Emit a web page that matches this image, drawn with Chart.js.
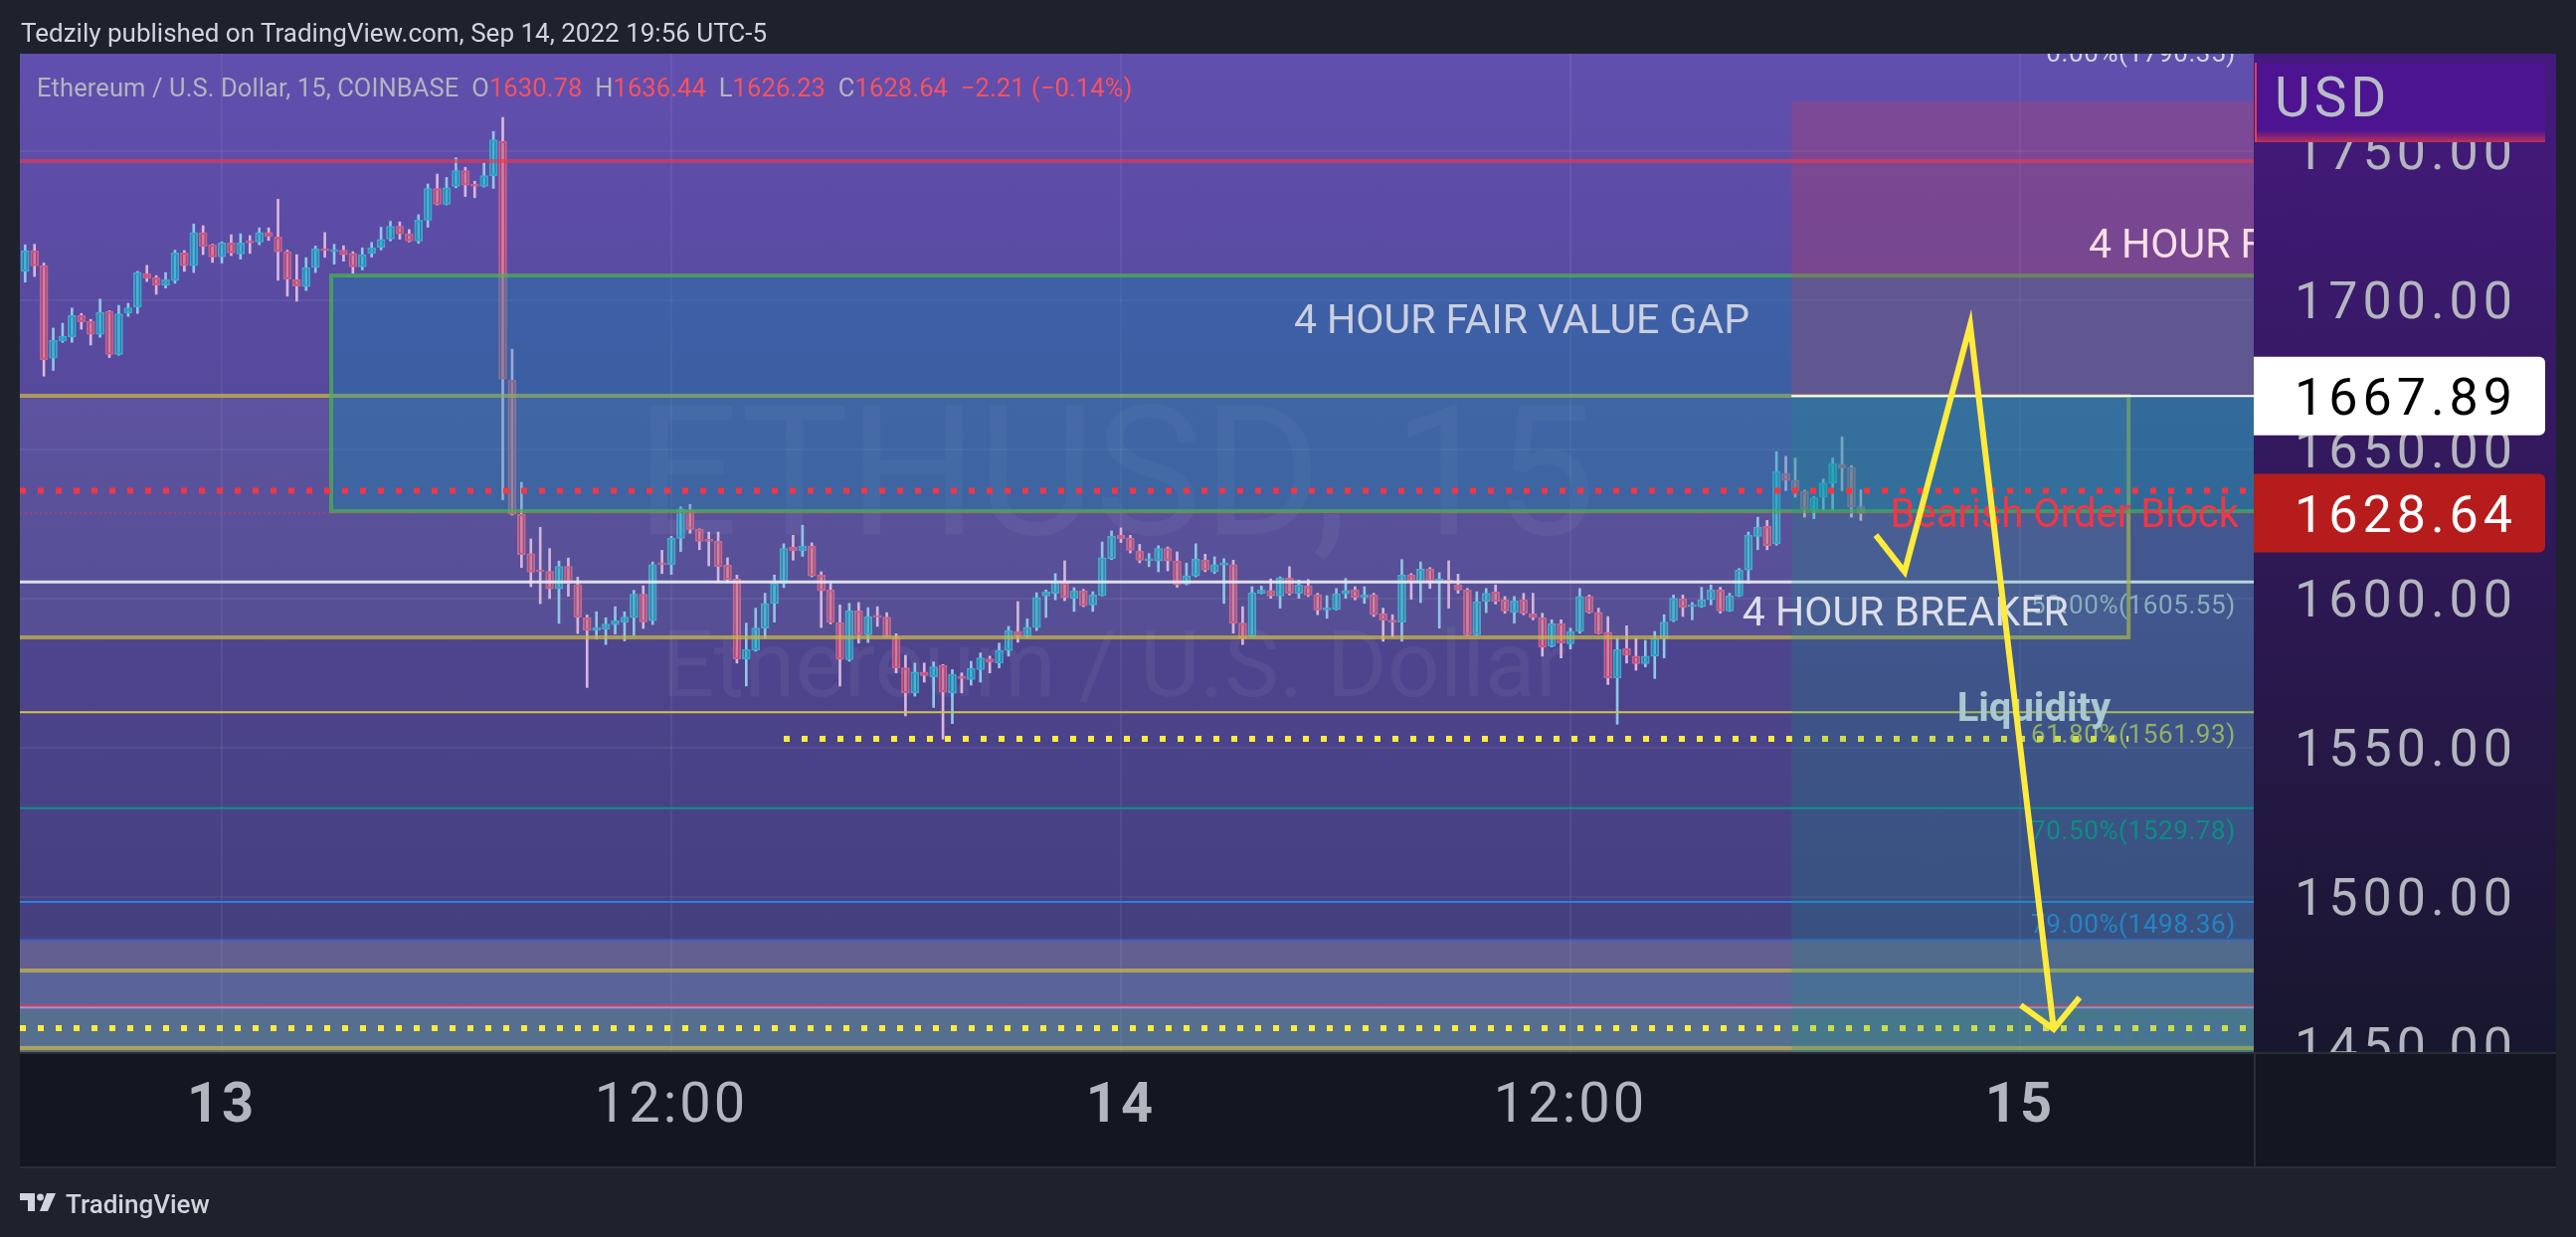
<!DOCTYPE html>
<html>
<head>
<meta charset="utf-8">
<script src="https://cdn.jsdelivr.net/npm/chart.js@4.4.1/dist/chart.umd.min.js"></script>
<style>
  html, body { margin: 0; padding: 0; background: #1e222d; overflow: hidden; }
  #wrap { position: relative; width: 2590px; height: 1244px; }
  canvas { position: absolute; left: 0; top: 0; }
  .txt { position: absolute; font-family: Roboto, "Liberation Sans", sans-serif; white-space: pre; }
  #head { left: 21px; top: 20px; font-size: 26px; line-height: 26px; color: #d1d4dc; }
  #legend { left: 37px; top: 76px; font-size: 25.5px; line-height: 25px; color: #b2b5be; letter-spacing: 0.1px; }
  #legend .v { color: #f7525f; }
  #foot { left: 66px; top: 1198px; font-size: 26px; line-height: 26px; color: #d1d4dc; font-weight: 500; }
  #logo { position: absolute; left: 20px; top: 1200px; }
</style>
</head>
<body>
<div id="wrap">
  <canvas id="c" width="2590" height="1244"></canvas>
  <div id="head" class="txt">Tedzily published on TradingView.com, Sep 14, 2022 19:56 UTC-5</div>
  <div id="legend" class="txt">Ethereum / U.S. Dollar, 15, COINBASE  O<span class="v">1630.78</span>  H<span class="v">1636.44</span>  L<span class="v">1626.23</span>  C<span class="v">1628.64</span>  <span class="v">−2.21 (−0.14%)</span></div>
  <svg id="logo" width="40" height="20" viewBox="0 0 40 20">
    <path d="M0 0h15v18h-7v-11h-8z" fill="#d1d4dc"/>
    <circle cx="20.5" cy="4" r="3.4" fill="#d1d4dc"/>
    <path d="M27 0h9l-8 18h-8z" fill="#d1d4dc"/>
  </svg>
  <div id="foot" class="txt">TradingView</div>
</div>
<script>
// ETH/USD 15 min, COINBASE. Time axis in hours from Sep 13 00:00 (UTC-5).
const firstBar = -5.25;
const barHours = 0.25;

const opens = [
  1709.7,1716.6,1711.6,1680.6,1686.4,1687.7,1694.9,1693.0,1688.6,1696.2,
  1681.9,1695.8,1697.8,1708.9,1707.6,1705.1,1706.6,1715.9,1711.6,1722.7,
  1718.6,1714.6,1719.2,1715.5,1719.7,1719.5,1722.7,1721.2,1716.3,1706.9,
  1704.6,1711.0,1717.2,1716.3,1716.8,1715.7,1711.2,1715.7,1717.8,1720.5,
  1724.8,1722.2,1719.9,1726.9,1737.5,1732.2,1738.2,1743.5,1739.0,1738.2,
  1741.8,1753.3,1673.2,1628.3,1615.1,1609.4,1609.1,1603.3,1610.8,1604.7,
  1593.6,1589.4,1589.8,1591.3,1592.1,1593.6,1601.5,1592.6,1611.8,1611.4,
  1620.2,1629.6,1623.2,1619.6,1619.2,1611.2,1606.6,1579.8,1582.7,1590.1,
  1598.4,1605.1,1617.3,1616.0,1617.6,1607.9,1602.9,1592.0,1579.5,1595.9,
  1587.9,1594.0,1593.8,1586.8,1576.8,1568.4,1575.4,1573.8,1577.6,1568.4,
  1573.6,1572.9,1576.2,1579.8,1578.4,1582.6,1589.0,1587.3,1590.4,1600.9,
  1601.8,1605.3,1600.1,1602.6,1597.9,1601.0,1613.4,1621.2,1620.2,1615.9,
  1612.7,1612.6,1616.8,1612.6,1604.9,1607.6,1612.9,1609.0,1611.2,1611.4,
  1591.8,1587.3,1601.8,1602.7,1600.9,1606.9,1601.8,1604.2,1601.2,1596.2,
  1596.4,1601.6,1602.9,1600.4,1601.2,1594.9,1592.7,1592.1,1607.9,1605.4,
  1609.9,1605.9,1606.2,1604.6,1602.9,1587.9,1599.0,1602.3,1599.6,1595.4,
  1599.6,1594.9,1593.6,1584.0,1591.6,1584.9,1589.0,1600.7,1595.4,1588.7,
  1573.4,1583.2,1580.7,1578.2,1580.7,1586.6,1592.6,1599.9,1597.3,1597.3,
  1599.6,1602.9,1595.9,1600.9,1609.6,1620.9,1624.2,1618.4,1642.1,1639.6,
  1635.9,1629.6,1634.0,1638.8,1645.1,1644.0,1630.78
];
const highs = [
  1718.6,1718.8,1712.5,1690.7,1692.3,1697.4,1695.6,1693.6,1700.4,1696.5,
  1698.3,1699.0,1709.7,1711.7,1708.3,1709.3,1716.8,1716.7,1725.6,1725.0,
  1718.8,1719.6,1722.0,1722.3,1721.7,1724.3,1724.3,1733.9,1716.8,1715.3,
  1714.3,1718.2,1722.7,1718.8,1718.3,1716.3,1717.6,1719.4,1724.5,1726.5,
  1726.3,1723.7,1728.7,1739.0,1742.3,1741.2,1747.8,1744.6,1739.9,1746.0,
  1756.6,1761.3,1683.6,1639.0,1620.0,1623.9,1616.8,1612.6,1613.6,1607.2,
  1594.5,1595.6,1593.6,1597.3,1595.6,1602.8,1604.3,1612.3,1616.2,1620.9,
  1630.8,1631.6,1623.4,1622.3,1622.3,1613.7,1607.9,1591.8,1596.8,1601.8,
  1607.9,1618.4,1621.2,1624.6,1618.7,1609.0,1605.1,1597.9,1598.4,1598.7,
  1597.0,1597.3,1595.3,1588.2,1581.0,1578.4,1578.4,1578.8,1577.9,1576.2,
  1575.1,1579.0,1581.8,1580.7,1585.1,1590.7,1599.0,1593.2,1602.0,1602.9,
  1608.4,1612.7,1603.7,1603.1,1602.3,1619.0,1622.7,1623.7,1621.2,1618.2,
  1615.1,1617.7,1617.3,1615.7,1611.9,1618.4,1614.9,1614.0,1613.4,1612.9,
  1597.3,1604.0,1604.2,1606.6,1607.3,1610.7,1606.2,1606.4,1601.8,1601.0,
  1603.4,1606.8,1604.0,1604.0,1601.8,1596.8,1594.6,1613.1,1608.4,1612.3,
  1610.4,1608.7,1612.7,1608.2,1603.4,1602.3,1603.4,1604.6,1600.7,1600.7,
  1601.8,1601.8,1595.1,1592.9,1592.9,1590.1,1603.4,1601.2,1596.8,1594.0,
  1586.8,1590.9,1586.8,1586.0,1589.0,1594.6,1601.2,1601.2,1598.7,1603.8,
  1604.6,1603.8,1601.8,1610.1,1622.3,1627.3,1626.2,1649.3,1647.7,1647.1,
  1636.4,1634.2,1640.1,1647.1,1654.2,1644.6,1636.44
];
const lows = [
  1706.1,1708.0,1674.6,1676.5,1685.9,1685.9,1690.3,1685.0,1687.6,1680.8,
  1681.6,1694.6,1695.6,1706.3,1702.0,1704.1,1705.7,1709.7,1709.3,1715.3,
  1712.7,1712.5,1715.0,1713.8,1715.7,1718.6,1720.1,1706.7,1701.4,1699.7,
  1703.3,1709.3,1714.4,1712.1,1713.1,1709.0,1710.2,1714.5,1716.9,1719.9,
  1720.5,1719.6,1719.1,1724.5,1732.0,1732.0,1737.7,1734.8,1734.4,1738.0,
  1737.5,1633.1,1628.0,1610.4,1604.0,1598.3,1600.0,1591.7,1600.8,1588.3,
  1570.2,1586.4,1584.6,1588.1,1585.8,1587.7,1590.0,1591.3,1608.4,1608.1,
  1615.8,1621.9,1616.4,1611.0,1605.4,1605.4,1578.4,1570.7,1582.4,1586.8,
  1592.1,1603.7,1612.9,1614.2,1607.3,1590.3,1591.5,1570.7,1579.0,1585.1,
  1585.3,1590.7,1587.0,1575.1,1560.7,1567.3,1572.0,1563.5,1552.9,1558.1,
  1568.4,1571.0,1572.0,1575.1,1576.8,1580.7,1585.4,1587.0,1589.3,1593.7,
  1599.6,1599.3,1595.7,1597.3,1595.7,1600.9,1613.1,1618.8,1615.3,1612.0,
  1610.7,1609.0,1609.3,1603.8,1604.6,1607.3,1609.0,1608.4,1598.4,1588.4,
  1584.6,1587.1,1601.6,1600.1,1596.8,1601.2,1600.1,1600.7,1594.6,1593.4,
  1596.2,1600.1,1599.6,1598.4,1594.0,1585.7,1587.1,1585.7,1599.8,1598.7,
  1603.4,1590.1,1596.8,1601.8,1587.7,1587.7,1595.3,1598.2,1595.1,1591.8,
  1594.6,1592.9,1580.7,1583.8,1580.1,1583.1,1588.4,1595.1,1588.2,1571.2,
  1557.9,1578.4,1576.0,1577.1,1573.2,1580.1,1592.3,1594.0,1592.9,1597.1,
  1597.9,1595.1,1595.7,1600.7,1605.1,1616.4,1616.4,1617.9,1636.2,1634.0,
  1627.3,1626.8,1629.6,1629.6,1636.2,1627.3,1626.23
];
const closes = [
  1716.6,1711.5,1680.1,1686.6,1688.0,1694.9,1692.8,1688.6,1695.9,1681.9,
  1695.5,1697.5,1709.3,1707.4,1705.1,1706.9,1715.9,1711.6,1722.7,1718.1,
  1714.5,1719.2,1715.9,1719.2,1719.2,1722.7,1721.4,1716.3,1707.1,1704.8,
  1711.0,1717.2,1716.6,1716.8,1715.3,1711.2,1715.3,1717.6,1720.4,1724.8,
  1722.3,1719.9,1726.9,1737.5,1732.2,1737.7,1743.5,1738.6,1738.2,1741.8,
  1753.8,1673.6,1628.3,1614.8,1608.9,1609.0,1603.3,1610.8,1605.1,1593.8,
  1589.4,1590.3,1591.5,1592.6,1593.8,1601.5,1592.2,1611.4,1611.4,1620.2,
  1630.1,1623.2,1619.2,1619.2,1610.7,1606.4,1579.8,1583.0,1590.1,1598.4,
  1605.1,1616.8,1616.0,1617.6,1607.6,1602.6,1592.1,1579.6,1595.9,1587.9,
  1594.0,1593.7,1587.1,1576.8,1568.4,1575.4,1574.2,1577.1,1568.7,1574.6,
  1573.2,1576.6,1580.1,1578.7,1582.6,1589.3,1587.6,1590.4,1600.4,1602.2,
  1605.9,1600.4,1602.6,1597.6,1601.2,1613.7,1620.9,1620.1,1616.2,1612.9,
  1613.1,1616.8,1612.6,1604.6,1607.6,1613.2,1609.6,1611.4,1611.8,1591.8,
  1586.6,1602.0,1602.9,1600.9,1606.9,1601.8,1604.6,1601.2,1596.2,1596.8,
  1601.6,1602.7,1600.4,1601.2,1594.6,1592.7,1592.1,1607.9,1605.7,1609.9,
  1605.9,1606.2,1605.1,1602.9,1587.9,1599.0,1601.8,1599.0,1595.9,1599.3,
  1595.1,1593.6,1583.7,1591.6,1585.1,1589.0,1600.7,1595.4,1588.4,1573.4,
  1582.9,1581.0,1578.2,1580.7,1586.6,1592.1,1600.1,1597.1,1597.6,1599.6,
  1602.9,1595.9,1600.9,1609.6,1621.2,1624.0,1617.7,1642.6,1639.6,1636.2,
  1630.1,1633.8,1638.8,1645.3,1643.8,1630.7,1628.64
];
const times = opens.map((_, i) => firstBar + i * barHours);

const timeTickValues = [0, 12, 24, 36, 48];
const timeTickLabels = ['13', '12:00', '14', '12:00', '15'];
const priceTickValues = [1450, 1500, 1550, 1600, 1650, 1700, 1750];

// fib retracement
const fibRatios = ['0.00%', '50.00%', '61.80%', '70.50%', '79.00%', '88.60%'];
const fibPrices = [1790.35, 1605.55, 1561.93, 1529.78, 1498.36, 1462.88];
const fibLineColors = ['#d1d4dc', 'rgba(238,238,248,0.95)', '#cfc34c', '#0e9086', '#2f7fe0', 'rgba(165,155,225,0.9)'];
const fibTextColors = ['#d1d4dc', '#aab4cc', '#b6b65c', '#0b8c82', '#2a80d8', '#5a64ae'];

// drawings: [t0, t1, top, bottom]
const fvgBox = [2.92, 60, 1708.3, 1629.3];
const breakerBox = [-10, 50.9, 1668.0, 1587.0];
const lowBand = [-10, 60, 1485.7, 1400];
const lowBox = [-10, 60, 1475.3, 1449.3];
const lowGreen = [-10, 60, 1462.3, 1400];
const shortPos = [41.9, 60, 1766.7, 1667.89, 1400];   // t0, t1, stop, entry, target
const redLines = [1746.7, 1463.3];
const redDotted = 1636.2;
const liquidityLine = [15.0, 50.9, 1553.0];
const lowDotted = 1456.0;
const lastPrice = 1628.64;
const arrowT = [44.15, 44.92, 46.67, 48.90];
const arrowP = [1621.3, 1609.0, 1691.7, 1455.7];
const arrowHeadT = [48.02, 48.90, 49.59];
const arrowHeadP = [1463.7, 1455.7, 1466.3];

const up = closes.map((c, i) => c >= opens[i]);
const bodyFill = up.map(u => u ? 'rgba(0,150,180,0.45)' : 'rgba(200,60,90,0.45)');
const bodyLine = up.map(u => u ? '#3fa6cc' : '#c9608c');
const wickColor = up.map(u => u ? '#8fc6e8' : '#d9b6de');

const FONT = 'Roboto, "Liberation Sans", sans-serif';

const tvDrawings = {
  id: 'tvDrawings',
  beforeDraw(chart) {
    const { ctx, chartArea: a, scales: { y: ys } } = chart;
    ctx.save();
    let g = ctx.createLinearGradient(0, a.top, 0, a.bottom);
    g.addColorStop(0, '#614fae');
    g.addColorStop(1, '#413d79');
    ctx.fillStyle = g;
    ctx.fillRect(a.left, a.top, a.right - a.left, a.bottom - a.top);
    g = ctx.createLinearGradient(0, a.top, 0, a.bottom);
    g.addColorStop(0, '#451a7e');
    g.addColorStop(1, '#18172e');
    ctx.fillStyle = g;
    ctx.fillRect(ys.left, a.top, ys.right - ys.left, a.bottom - a.top);
    // watermark
    ctx.fillStyle = 'rgba(255,255,255,0.05)';
    ctx.textAlign = 'center';
    ctx.textBaseline = 'alphabetic';
    ctx.font = '182px ' + FONT;
    ctx.fillText('ETHUSD, 15', 1122, 537);
    ctx.font = '93px ' + FONT;
    ctx.fillText('Ethereum / U.S. Dollar', 1120, 700);
    ctx.restore();
    ctx.letterSpacing = '5px';
  },
  beforeDatasetsDraw(chart) {
    chart.ctx.letterSpacing = '0px';
  },
  afterDatasetsDraw(chart) {
    const { ctx, chartArea: a, scales: { x: xs, y: ys } } = chart;
    const X = t => xs.getPixelForValue(t);
    const Y = p => ys.getPixelForValue(p);

    const fillBox = (b, color) => {
      ctx.fillStyle = color;
      ctx.fillRect(X(b[0]), Y(b[2]), X(b[1]) - X(b[0]), Y(b[3]) - Y(b[2]));
    };
    const hline = (p, color, w, dash, t0, t1) => {
      const x0 = t0 === undefined ? a.left : X(t0);
      const x1 = t1 === undefined ? a.right : X(t1);
      ctx.beginPath();
      ctx.setLineDash(dash || []);
      ctx.strokeStyle = color;
      ctx.lineWidth = w;
      ctx.moveTo(x0, Y(p));
      ctx.lineTo(x1, Y(p));
      ctx.stroke();
      ctx.setLineDash([]);
    };
    // text centred on the cap height
    const text = (s, x, y, align, color, size, weight) => {
      ctx.font = (weight || '') + ' ' + size + 'px ' + FONT;
      ctx.fillStyle = color;
      ctx.textAlign = align;
      ctx.textBaseline = 'alphabetic';
      ctx.fillText(s, x, y + size * 0.355);
    };
    const olive = 'rgba(200,180,70,0.75)';

    ctx.save();
    ctx.beginPath();
    ctx.rect(a.left, a.top, a.right - a.left, a.bottom - a.top);
    ctx.clip();

    // lower zones
    fillBox(lowBand, 'rgba(178,181,190,0.28)');
    hline(lowBand[2], 'rgba(41,98,255,0.35)', 3);
    fillBox(lowBox, 'rgba(33,150,243,0.12)');
    fillBox(lowGreen, 'rgba(76,175,80,0.15)');
    hline(lowBox[2], olive, 4);
    hline(lowBox[3], olive, 4);
    redLines.forEach(p => hline(p, 'rgba(242,54,69,0.62)', 4));

    // fib levels
    fibPrices.forEach((p, i) => {
      hline(p, fibLineColors[i], i === 1 ? 3 : 2);
      ctx.letterSpacing = '0.6px';
      text(fibRatios[i] + '(' + p.toFixed(2) + ')', X(53.76), Y(p) + 22, 'right', fibTextColors[i], 26);
      ctx.letterSpacing = '0px';
    });

    // 4h breaker
    fillBox(breakerBox, 'rgba(160,180,200,0.1)');
    ctx.strokeStyle = olive;
    ctx.lineWidth = 4;
    ctx.strokeRect(X(breakerBox[0]), Y(breakerBox[2]), X(breakerBox[1]) - X(breakerBox[0]), Y(breakerBox[3]) - Y(breakerBox[2]));

    // 4h fair value gap
    fillBox(fvgBox, 'rgba(0,145,180,0.3)');
    ctx.strokeStyle = 'rgba(76,175,80,0.75)';
    ctx.lineWidth = 4;
    ctx.strokeRect(X(fvgBox[0]), Y(fvgBox[2]), X(fvgBox[1]) - X(fvgBox[0]), Y(fvgBox[3]) - Y(fvgBox[2]));

    // yellow dotted liquidity lines
    hline(liquidityLine[2], '#ffeb3b', 6, [6, 12], liquidityLine[0], liquidityLine[1]);
    hline(lowDotted, '#ffeb3b', 6, [6, 12]);

    // short position
    fillBox([shortPos[0], shortPos[1], shortPos[2], shortPos[3]], 'rgba(242,54,69,0.2)');
    fillBox([shortPos[0], shortPos[1], shortPos[3], shortPos[4]], 'rgba(8,153,129,0.2)');
    hline(shortPos[3], '#ffffff', 2, null, shortPos[0]);

    hline(redDotted, '#f23645', 6, [6, 12]);
    hline(lastPrice, 'rgba(242,54,69,0.55)', 1.5, [2, 3]);

    // texts
    text('4 HOUR FAIR VALUE GAP', X(34.70), Y(1694.0), 'center', 'rgba(214,217,228,0.92)', 41);
    text('4 HOUR FAIR VALUE GAP', X(49.83), Y(1719.3), 'left', '#f8dfe6', 41);
    text('4 HOUR BREAKER', X(40.59), Y(1596.0), 'left', '#dcdee8', 41);
    text('Bearish Order Block', X(53.84), Y(1628.7), 'right', '#f23645', 40);
    text('Liquidity', X(48.37), Y(1563.7), 'center', '#a9c8d0', 40, 'bold');

    // yellow arrow path
    ctx.strokeStyle = '#ffeb3b';
    ctx.lineWidth = 6;
    ctx.lineJoin = 'miter';
    ctx.beginPath();
    arrowT.forEach((t, i) => i ? ctx.lineTo(X(t), Y(arrowP[i])) : ctx.moveTo(X(t), Y(arrowP[i])));
    ctx.stroke();
    ctx.beginPath();
    arrowHeadT.forEach((t, i) => i ? ctx.lineTo(X(t), Y(arrowHeadP[i])) : ctx.moveTo(X(t), Y(arrowHeadP[i])));
    ctx.stroke();
    ctx.restore();

    // time axis panel (also hides the price labels that run past the pane)
    ctx.save();
    ctx.fillStyle = '#131722';
    ctx.fillRect(a.left, a.bottom, ys.right - a.left, xs.bottom - a.bottom);
    ctx.fillStyle = '#2a2e39';
    ctx.fillRect(a.left, a.bottom, ys.right - a.left, 2);
    ctx.fillRect(a.left, xs.bottom, ys.right - a.left, 2);
    ctx.fillRect(a.right, a.bottom, 2, xs.bottom - a.bottom);

    // currency box
    const ux = a.right + 1, uw = 292;
    ctx.fillStyle = '#4c1490';
    ctx.fillRect(ux, 63, uw, 80);
    const ug = ctx.createLinearGradient(0, 131, 0, 143);
    ug.addColorStop(0, 'rgba(200,50,80,0)');
    ug.addColorStop(1, 'rgba(210,55,80,0.85)');
    ctx.fillStyle = ug;
    ctx.fillRect(ux, 131, uw, 12);
    ctx.fillStyle = '#e0404a';
    ctx.fillRect(ux, 63, 2, 80);
    ctx.letterSpacing = '4px';
    text('USD', a.right + 21, 97, 'left', '#b8bcc8', 55);

    // price tags
    const tag = (p, bg, fg) => {
      const y = Y(p);
      ctx.fillStyle = bg;
      ctx.beginPath();
      ctx.roundRect(a.right, y - 39.5, 293, 79, [0, 6, 6, 0]);
      ctx.fill();
      ctx.letterSpacing = '5px';
      text(p.toFixed(2), a.right + 41, y, 'left', fg, 52);
    };
    tag(shortPos[3], '#ffffff', '#000000');
    tag(lastPrice, '#b71c1c', '#ffffff');
    ctx.restore();
    ctx.letterSpacing = '3px';
  },
  afterDraw(chart) {
    chart.ctx.letterSpacing = '0px';
  }
};

new Chart(document.getElementById('c'), {
  type: 'bar',
  data: {
    datasets: [
      {
        label: 'body',
        data: times.map((t, i) => ({ x: t, y: [opens[i], closes[i]] })),
        backgroundColor: bodyFill,
        borderColor: bodyLine,
        borderWidth: 1.5,
        borderSkipped: false,
        barThickness: 8,
        minBarLength: 2,
        grouped: false,
        order: 0
      },
      {
        label: 'wick',
        data: times.map((t, i) => ({ x: t, y: [lows[i], highs[i]] })),
        backgroundColor: wickColor,
        borderWidth: 0,
        barThickness: 2,
        grouped: false,
        order: 1
      }
    ]
  },
  options: {
    responsive: false,
    animation: false,
    devicePixelRatio: 1,
    layout: { padding: { left: 20, top: 54, right: 20, bottom: 71 } },
    plugins: { legend: { display: false }, tooltip: { enabled: false } },
    scales: {
      x: {
        type: 'linear',
        min: -5.39,
        max: 54.24,
        offset: false,
        grid: { color: 'rgba(255,255,255,0.06)', lineWidth: 2, drawTicks: false, offset: false },
        border: { display: false },
        afterBuildTicks: s => { s.ticks = timeTickValues.map(v => ({ value: v })); },
        afterFit: s => { s.height = 115; s.paddingLeft = 0; s.paddingRight = 0; },
        ticks: {
          z: 1,
          padding: 22,
          maxRotation: 0,
          autoSkip: false,
          color: '#b2b5be',
          font: c => ({ family: FONT, size: 56, weight: c.tick && c.tick.value % 24 === 0 ? 'bold' : 'normal' }),
          callback: (v, i) => timeTickLabels[i]
        }
      },
      y: {
        type: 'linear',
        position: 'right',
        min: 1448,
        max: 1782.67,
        grid: { color: 'rgba(255,255,255,0.06)', lineWidth: 2, drawTicks: false },
        border: { display: false },
        afterBuildTicks: s => { s.ticks = priceTickValues.map(v => ({ value: v })); },
        afterFit: s => { s.width = 304; s.paddingTop = 0; s.paddingBottom = 0; },
        ticks: {
          padding: 41,
          labelOffset: 5,
          crossAlign: 'near',
          color: '#b2b5be',
          font: { family: FONT, size: 52 },
          callback: v => v.toFixed(2)
        }
      }
    }
  },
  plugins: [tvDrawings]
});
</script>
</body>
</html>
